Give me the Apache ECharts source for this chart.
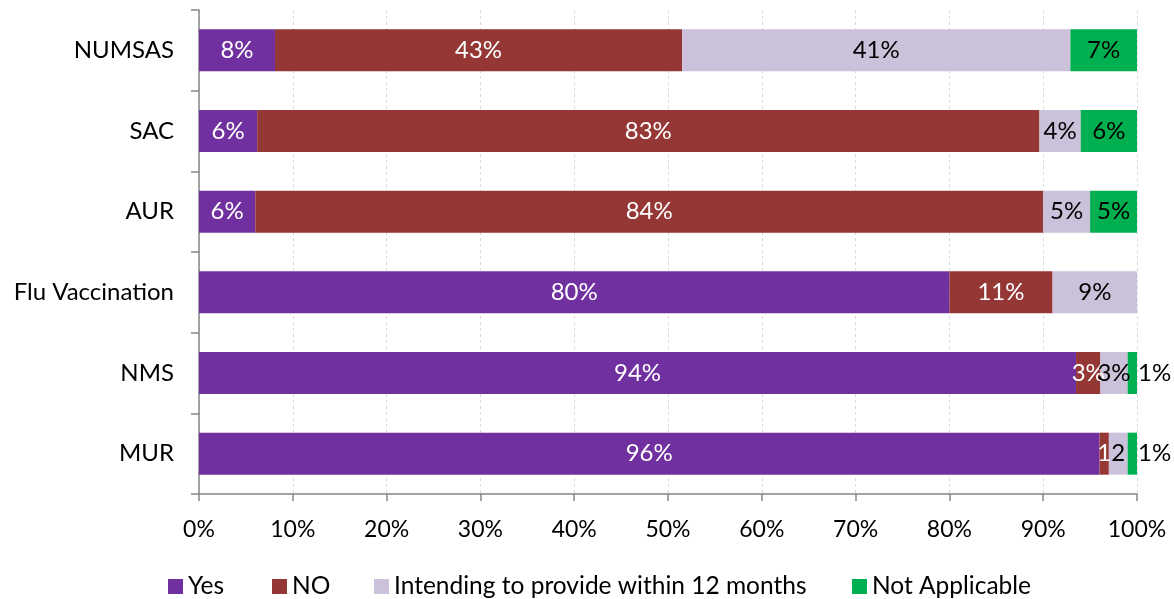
<!DOCTYPE html>
<html>
<head>
<meta charset="utf-8">
<script src="https://cdn.jsdelivr.net/npm/echarts@6/dist/echarts.min.js"></script>
<style>
  html, body { margin: 0; padding: 0; background: #ffffff; }
  #chart { width: 1174px; height: 599px; }
</style>
</head>
<body>
<div id="chart"></div>
<script>
// Services, listed top to bottom
const categories = ['NUMSAS', 'SAC', 'AUR', 'Flu Vaccination', 'NMS', 'MUR'];

// Share of respondents (%) per answer, in category order
const yesValues        = [8.1, 6.2, 6.0, 80.0, 93.5, 96.0];
const noValues         = [43.4, 83.4, 84.0, 11.0, 2.6, 1.0];
const intendingValues  = [41.4, 4.4, 5.0, 9.0, 2.9, 2.0];
const notApplicable    = [7.1, 6.0, 5.0, 0, 1.0, 1.0];

const seriesNames = ['Yes', 'NO', 'Intending to provide within 12 months', 'Not Applicable'];
const tickValues = [0, 10, 20, 30, 40, 50, 60, 70, 80, 90, 100];

const colors = ['#7030A0', '#953735', '#CCC1DA', '#00B050'];
const FONT = 'Lato';

const pct = p => Math.round(p.value) + '%';
const bare = p => String(Math.round(p.value));

function build(values) {
  return values.map(v => {
    const item = { value: v };
    if (v === 0) item.label = { show: false };
    return item;
  });
}

const yesData = build(yesValues);
const noData = build(noValues);
const intData = build(intendingValues);
const naData = build(notApplicable);

// Narrow MUR segments show only the number
noData[5].label = { formatter: bare };
intData[5].label = { formatter: bare };
// Thin "Not Applicable" slivers carry their label just outside the bar
naData[4].label = { position: 'right', distance: 1 };
naData[5].label = { position: 'right', distance: 1 };

function series(name, data, color, textColor) {
  return {
    name: name,
    type: 'bar',
    stack: 'total',
    barWidth: 42,
    data: data,
    itemStyle: { color: color },
    label: {
      show: true,
      position: 'inside',
      formatter: pct,
      color: textColor,
      fontFamily: FONT,
      fontSize: 24
    },
    emphasis: { disabled: true }
  };
}

function legendAt(name, left) {
  return {
    data: [name],
    left: left,
    top: 569,
    itemWidth: 15,
    itemHeight: 15,
    icon: 'rect',
    itemStyle: { borderWidth: 0 },
    textStyle: { fontFamily: FONT, fontSize: 24.5, color: '#000000', padding: [0, 0, 4, 0] },
    selectedMode: false
  };
}

const chart = echarts.init(document.getElementById('chart'), null, { renderer: 'canvas' });
chart.setOption({
  animation: false,
  color: colors,
  grid: { left: 199, right: 37, top: 10, bottom: 105, containLabel: false },
  legend: [
    legendAt(seriesNames[0], 163),
    legendAt(seriesNames[1], 267),
    legendAt(seriesNames[2], 369),
    legendAt(seriesNames[3], 847)
  ],
  xAxis: {
    type: 'value',
    min: tickValues[0],
    max: tickValues[tickValues.length - 1],
    interval: tickValues[1] - tickValues[0],
    axisLine: { show: true, lineStyle: { color: '#868686', width: 1.5 } },
    axisTick: { show: true, length: 7, lineStyle: { color: '#868686', width: 1.5 } },
    splitLine: { show: true, lineStyle: { color: '#d9d9d9', type: [3, 3], width: 1 } },
    axisLabel: {
      margin: 24,
      fontFamily: FONT,
      fontSize: 23,
      color: '#000000',
      formatter: v => v + '%'
    }
  },
  yAxis: {
    type: 'category',
    inverse: true,
    data: categories,
    axisLine: { show: true, lineStyle: { color: '#868686', width: 1.5 } },
    axisTick: { show: true, length: 8, lineStyle: { color: '#868686', width: 1.5 } },
    axisLabel: {
      margin: 25,
      fontFamily: FONT,
      fontSize: 24,
      color: '#000000'
    }
  },
  series: [
    series(seriesNames[0], yesData, colors[0], '#ffffff'),
    series(seriesNames[1], noData, colors[1], '#ffffff'),
    series(seriesNames[2], intData, colors[2], '#000000'),
    series(seriesNames[3], naData, colors[3], '#000000')
  ]
});
</script>
</body>
</html>
